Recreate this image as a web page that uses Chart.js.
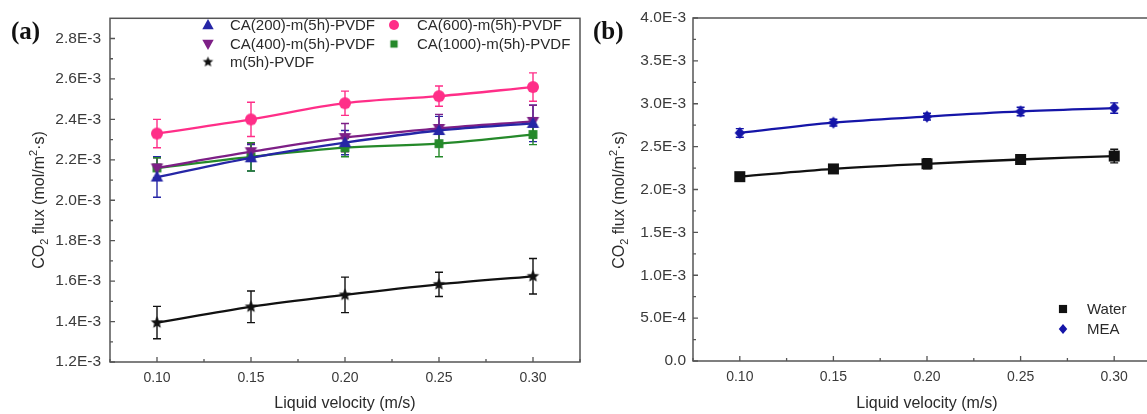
<!DOCTYPE html>
<html>
<head>
<meta charset="utf-8">
<script src="https://cdn.jsdelivr.net/npm/chart.js@4.4.0/dist/chart.umd.min.js"></script>
<style>
html, body { margin: 0; padding: 0; background: #fff; overflow: hidden; width: 1147px; height: 414px; }
canvas { position: absolute; top: 0; }
#chartA { left: 0; }
#chartB { left: 590px; }
</style>
</head>
<body>
<canvas id="chartA" width="600" height="414"></canvas>
<canvas id="chartB" width="600" height="414"></canvas>
<script>
// liquid velocity (m/s)
const velocity = [0.10, 0.15, 0.20, 0.25, 0.30];

// panel (a) CO2 flux, mol/m2.s
const ca200 = [2.115e-3, 2.21e-3, 2.285e-3, 2.345e-3, 2.38e-3];
const ca200Err = [0.10e-3, 0.065e-3, 0.06e-3, 0.07e-3, 0.09e-3];
const ca400 = [2.16e-3, 2.24e-3, 2.31e-3, 2.355e-3, 2.39e-3];
const ca400Err = [0.05e-3, 0.04e-3, 0.07e-3, 0.07e-3, 0.08e-3];
const ca600 = [2.33e-3, 2.40e-3, 2.48e-3, 2.515e-3, 2.56e-3];
const ca600Err = [0.07e-3, 0.085e-3, 0.06e-3, 0.05e-3, 0.07e-3];
const ca1000 = [2.16e-3, 2.215e-3, 2.26e-3, 2.28e-3, 2.325e-3];
const ca1000Err = [0.05e-3, 0.07e-3, 0.045e-3, 0.065e-3, 0.05e-3];
const m5h = [1.395e-3, 1.473e-3, 1.532e-3, 1.584e-3, 1.624e-3];
const m5hErr = [0.08e-3, 0.078e-3, 0.088e-3, 0.06e-3, 0.088e-3];

// panel (b)
const water = [2.15e-3, 2.24e-3, 2.30e-3, 2.35e-3, 2.39e-3];
const waterErr = [0.04e-3, 0.05e-3, 0.06e-3, 0.05e-3, 0.08e-3];
const mea = [2.66e-3, 2.78e-3, 2.85e-3, 2.91e-3, 2.95e-3];
const meaErr = [0.05e-3, 0.04e-3, 0.04e-3, 0.05e-3, 0.06e-3];

// ticks
const xTicks = [0.10, 0.15, 0.20, 0.25, 0.30];
const xTickLabels = ['0.10', '0.15', '0.20', '0.25', '0.30'];
const yTicksA = [1.2e-3, 1.4e-3, 1.6e-3, 1.8e-3, 2.0e-3, 2.2e-3, 2.4e-3, 2.6e-3, 2.8e-3];
const yTickLabelsA = ['1.2E-3', '1.4E-3', '1.6E-3', '1.8E-3', '2.0E-3', '2.2E-3', '2.4E-3', '2.6E-3', '2.8E-3'];
const yTicksB = [0, 0.5e-3, 1.0e-3, 1.5e-3, 2.0e-3, 2.5e-3, 3.0e-3, 3.5e-3, 4.0e-3];
const yTickLabelsB = ['0.0', '5.0E-4', '1.0E-3', '1.5E-3', '2.0E-3', '2.5E-3', '3.0E-3', '3.5E-3', '4.0E-3'];

const FONT = 'Arial, "Liberation Sans", sans-serif';

function makeMarker(shape, color, r) {
  const c = document.createElement('canvas');
  const s = Math.ceil(2 * r + 4);
  c.width = s; c.height = s;
  const g = c.getContext('2d');
  g.translate(s / 2, s / 2);
  g.fillStyle = color;
  g.beginPath();
  if (shape === 'tri') {
    g.moveTo(0, -r); g.lineTo(r * 0.95, r * 0.7); g.lineTo(-r * 0.95, r * 0.7);
  } else if (shape === 'tridown') {
    g.moveTo(0, r); g.lineTo(r * 0.95, -r * 0.7); g.lineTo(-r * 0.95, -r * 0.7);
  } else if (shape === 'circle') {
    g.arc(0, 0, r, 0, Math.PI * 2);
  } else if (shape === 'square') {
    g.rect(-r * 0.85, -r * 0.85, r * 1.7, r * 1.7);
  } else if (shape === 'diamond') {
    g.moveTo(0, -r); g.lineTo(r * 0.85, 0); g.lineTo(0, r); g.lineTo(-r * 0.85, 0);
  } else if (shape === 'star') {
    for (let k = 0; k < 10; k++) {
      const rr = k % 2 ? r * 0.45 : r;
      const a = -Math.PI / 2 + k * Math.PI / 5;
      g.lineTo(Math.cos(a) * rr, Math.sin(a) * rr);
    }
  }
  g.closePath();
  g.fill();
  return c;
}

function series(label, ys, errs, color, shape, r) {
  return {
    label: label,
    data: velocity.map((v, i) => ({ x: v, y: ys[i] })),
    errors: errs,
    borderColor: color,
    backgroundColor: color,
    borderWidth: 2.3,
    tension: 0.35,
    pointStyle: makeMarker(shape, color, r),
    legendShape: shape
  };
}

function richText(ctx, parts, cx, cy, size) {
  let w = 0;
  parts.forEach(p => {
    ctx.font = (p.s ? size * 0.68 : size) + 'px ' + FONT;
    p.w = ctx.measureText(p.t).width;
    w += p.w;
  });
  let x = cx - w / 2;
  ctx.textAlign = 'left';
  ctx.textBaseline = 'alphabetic';
  parts.forEach(p => {
    ctx.font = (p.s ? size * 0.68 : size) + 'px ' + FONT;
    const dy = p.s === 'sub' ? size * 0.3 : p.s === 'sup' ? -size * 0.42 : 0;
    ctx.fillText(p.t, x, cy + size * 0.35 + dy);
    x += p.w;
  });
}

const yTitleParts = [{ t: 'CO' }, { t: '2', s: 'sub' }, { t: ' flux (mol/m' }, { t: '2', s: 'sup' }, { t: '\u00b7s)' }];

const decorPlugin = {
  id: 'decor',
  beforeDatasetsDraw(chart) {
    const { ctx, scales: { x, y } } = chart;
    ctx.save();
    ctx.lineWidth = 1.4;
    chart.data.datasets.forEach((ds, i) => {
      const meta = chart.getDatasetMeta(i);
      ctx.strokeStyle = ds.borderColor;
      ctx.beginPath();
      meta.data.forEach((pt, j) => {
        const v = ds.data[j].y, e = ds.errors[j];
        const y1 = y.getPixelForValue(v + e), y2 = y.getPixelForValue(v - e);
        ctx.moveTo(pt.x, y1); ctx.lineTo(pt.x, y2);
        ctx.moveTo(pt.x - 4, y1); ctx.lineTo(pt.x + 4, y1);
        ctx.moveTo(pt.x - 4, y2); ctx.lineTo(pt.x + 4, y2);
      });
      ctx.stroke();
    });
    ctx.restore();
  },
  afterDraw(chart, args, opts) {
    const { ctx, chartArea: a, scales: { x, y } } = chart;
    ctx.save();
    // frame
    ctx.strokeStyle = '#555';
    ctx.lineWidth = 1.5;
    ctx.strokeRect(a.left, a.top, a.right - a.left, a.bottom - a.top);
    // ticks (inward)
    ctx.lineWidth = 1.3;
    ctx.beginPath();
    xTicks.forEach((v, i) => {
      const px = x.getPixelForValue(v);
      ctx.moveTo(px, a.bottom); ctx.lineTo(px, a.bottom - 5);
      const m = x.getPixelForValue(v + 0.025);
      ctx.moveTo(m, a.bottom); ctx.lineTo(m, a.bottom - 3);
      if (i === 0) {
        const m0 = x.getPixelForValue(v - 0.025);
        ctx.moveTo(m0, a.bottom); ctx.lineTo(m0, a.bottom - 3);
      }
    });
    const yt = opts.yTicks;
    const step = yt[1] - yt[0];
    yt.forEach(v => {
      const py = y.getPixelForValue(v);
      ctx.moveTo(a.left, py); ctx.lineTo(a.left + 5, py);
      const m = y.getPixelForValue(v + step / 2);
      if (m > a.top) { ctx.moveTo(a.left, m); ctx.lineTo(a.left + 3, m); }
    });
    ctx.stroke();

    ctx.fillStyle = '#2a2a2a';
    // axis titles
    ctx.save();
    ctx.translate(opts.yTitleX, 200);
    ctx.rotate(-Math.PI / 2);
    richText(ctx, yTitleParts, 0, 0, 16);
    ctx.restore();
    ctx.font = '16px ' + FONT;
    ctx.textAlign = 'center';
    ctx.textBaseline = 'middle';
    ctx.fillText('Liquid velocity (m/s)', (a.left + a.right) / 2, 404);

    // panel label
    ctx.font = 'bold 25px "Liberation Serif", "Times New Roman", serif';
    ctx.textAlign = 'left';
    ctx.fillStyle = '#111';
    ctx.fillText(opts.panel, opts.panelX, 33);

    // legend
    ctx.font = '15px ' + FONT;
    ctx.fillStyle = '#2a2a2a';
    opts.legend.forEach(item => {
      const ds = chart.data.datasets[item.i];
      const mk = makeMarker(ds.legendShape, ds.borderColor, item.r);
      ctx.drawImage(mk, item.mx - mk.width / 2, item.y - mk.height / 2);
      ctx.fillText(ds.label, item.tx, item.y + 1);
    });
    ctx.restore();
  }
};

function buildOptions(yMin, yMax, yTicks, yLabels, yWidth, xHeight, pad, yPadding, decor) {
  return {
    responsive: false,
    animation: false,
    events: [],
    layout: { padding: pad },
    plugins: { legend: { display: false }, tooltip: { enabled: false }, decor: decor },
    scales: {
      x: {
        type: 'linear', min: 0.075, max: 0.325,
        grid: { display: false, drawTicks: false },
        border: { display: false },
        afterBuildTicks: s => { s.ticks = xTicks.map(v => ({ value: v })); },
        afterFit: s => { s.height = xHeight; },
        ticks: {
          padding: 8, color: '#3a3a3a', font: { family: FONT, size: 14 },
          callback: (v, i) => xTickLabels[i]
        }
      },
      y: {
        type: 'linear', min: yMin, max: yMax,
        grid: { display: false, drawTicks: false },
        border: { display: false },
        afterBuildTicks: s => { s.ticks = yTicks.map(v => ({ value: v })); },
        afterFit: s => { s.width = yWidth; },
        ticks: {
          padding: yPadding, color: '#3a3a3a', font: { family: FONT, size: 15.5 },
          callback: (v, i) => yLabels[i]
        }
      }
    }
  };
}

new Chart(document.getElementById('chartA'), {
  type: 'line',
  data: {
    datasets: [
      series('CA(200)-m(5h)-PVDF', ca200, ca200Err, '#2626a6', 'tri', 6.5),
      series('CA(400)-m(5h)-PVDF', ca400, ca400Err, '#7d1f86', 'tridown', 6.5),
      series('m(5h)-PVDF', m5h, m5hErr, '#111111', 'star', 6.5),
      series('CA(600)-m(5h)-PVDF', ca600, ca600Err, '#ff2e88', 'circle', 6),
      series('CA(1000)-m(5h)-PVDF', ca1000, ca1000Err, '#25892a', 'square', 5.2)
    ]
  },
  options: buildOptions(1.2e-3, 2.9e-3, yTicksA, yTickLabelsA, 110, 52,
    { top: 13, right: 20, left: 0, bottom: 0 }, 9,
    {
      yTicks: yTicksA, yTitleX: 38, panel: '(a)', panelX: 11,
      legend: [
        { i: 0, mx: 208, tx: 230, y: 25, r: 6 },
        { i: 1, mx: 208, tx: 230, y: 44, r: 6 },
        { i: 2, mx: 208, tx: 230, y: 62, r: 5.5 },
        { i: 3, mx: 394, tx: 417, y: 25, r: 5 },
        { i: 4, mx: 394, tx: 417, y: 44, r: 4.3 }
      ]
    }),
  plugins: [decorPlugin]
});

new Chart(document.getElementById('chartB'), {
  type: 'line',
  data: {
    datasets: [
      series('Water', water, waterErr, '#111111', 'square', 6.5),
      series('MEA', mea, meaErr, '#1515a8', 'diamond', 6)
    ]
  },
  options: buildOptions(0, 4.0e-3, yTicksB, yTickLabelsB, 103, 53,
    { top: 18, right: 29, left: 0, bottom: 0 }, 7,
    {
      yTicks: yTicksB, yTitleX: 28, panel: '(b)', panelX: 3,
      legend: [
        { i: 0, mx: 473, tx: 497, y: 309, r: 4.8 },
        { i: 1, mx: 473, tx: 497, y: 329, r: 5 }
      ]
    }),
  plugins: [decorPlugin]
});
</script>
</body>
</html>
